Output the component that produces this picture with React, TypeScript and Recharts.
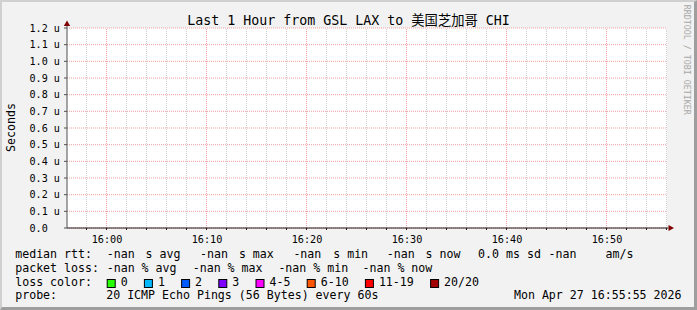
import React from 'react';
import {
  ComposedChart,
  Line,
  XAxis,
  YAxis,
  CartesianGrid,
  ReferenceLine,
  ReferenceDot,
} from 'recharts';

// ---- data (minutes since midnight; values in microseconds, all -nan) ----
const timeMinutes = [
  957, 958, 959, 960, 961, 962, 963, 964, 965, 966, 967, 968, 969, 970, 971,
  972, 973, 974, 975, 976, 977, 978, 979, 980, 981, 982, 983, 984, 985, 986,
  987, 988, 989, 990, 991, 992, 993, 994, 995, 996, 997, 998, 999, 1000, 1001,
  1002, 1003, 1004, 1005, 1006, 1007, 1008, 1009, 1010, 1011, 1012, 1013, 1014,
  1015, 1016,
];
const medianRtt: (number | null)[] = [
  null, null, null, null, null, null, null, null, null, null, null, null, null, null, null,
  null, null, null, null, null, null, null, null, null, null, null, null, null, null, null,
  null, null, null, null, null, null, null, null, null, null, null, null, null, null, null,
  null, null, null, null, null, null, null, null, null, null, null, null, null, null, null,
];
const xDomain = [956.05, 1016.05];
const xMinorTicks = [
  958, 960, 962, 964, 966, 968, 970, 972, 974, 976, 978, 980, 982, 984, 986, 988,
  990, 992, 994, 996, 998, 1000, 1002, 1004, 1006, 1008, 1010, 1012, 1014, 1016,
];
const xMajorTicks = [960, 970, 980, 990, 1000, 1010];
const xMajorLabels = ['16:00', '16:10', '16:20', '16:30', '16:40', '16:50'];
const yDomain = [0, 1.2];
const yTicks = [0, 0.1, 0.2, 0.3, 0.4, 0.5, 0.6, 0.7, 0.8, 0.9, 1.0, 1.1, 1.2];
const yTickLabels = [
  '0.0', '0.1 u', '0.2 u', '0.3 u', '0.4 u', '0.5 u', '0.6 u', '0.7 u', '0.8 u',
  '0.9 u', '1.0 u', '1.1 u', '1.2 u',
];
const lossLabels = ['0', '1', '2', '3', '4-5', '6-10', '11-19', '20/20'];
const lossColors = ['#26ff00', '#00b8ff', '#0059ff', '#7e00ff', '#ff00ff', '#ff5500', '#ff0000', '#a10000'];

const title = 'Last 1 Hour from GSL LAX to 美国芝加哥 CHI';
const yLabel = 'Seconds';
const watermark = 'RRDTOOL / TOBI OETIKER';
const probeText = '20 ICMP Echo Pings (56 Bytes) every 60s';
const stampText = 'Mon Apr 27 16:55:55 2026';

const data = timeMinutes.map((t, i) => ({ t, rtt: medianRtt[i] }));

const MONO = "'DejaVu Sans Mono', 'Noto Sans CJK SC', monospace";
const MAJOR = '#f0a0a0';
const MINOR = '#cfcfcf';

const fmtTime = (v: number) => {
  const i = xMajorTicks.indexOf(v);
  return i >= 0 ? xMajorLabels[i] : '';
};

const XTick = (p: any) => {
  const label = fmtTime(p.payload.value);
  if (!label) return <g />;
  return (
    <text x={p.x + 0.5} y={242.6} textAnchor="middle" fontFamily={MONO} fontSize={10.2} fill="#000">
      {label}
    </text>
  );
};

const YTick = (p: any) => {
  const i = yTicks.indexOf(p.payload.value);
  return (
    <text x={29.5} y={p.y + 3.5} textAnchor="start" fontFamily={MONO} fontSize={10.1} fill="#000">
      {i >= 0 ? yTickLabels[i] : ''}
    </text>
  );
};

const UpArrow = (p: any) => {
  const { cx, cy } = p;
  return (
    <g>
      <line x1={cx} y1={cy} x2={cx} y2={cy - 2.5} stroke="#505050" strokeWidth={1} />
      <polygon points={`${cx - 3.2},${cy - 2} ${cx + 3.2},${cy - 2} ${cx},${cy - 7.5}`} fill="#800000" />
    </g>
  );
};

const RightArrow = (p: any) => {
  const { cx, cy } = p;
  return (
    <g>
      <line x1={cx} y1={cy} x2={cx + 1.5} y2={cy} stroke="#1f1f1f" strokeWidth={1.2} />
      <polygon points={`${cx + 1.5},${cy - 3} ${cx + 1.5},${cy + 3} ${cx + 7},${cy}`} fill="#800000" />
    </g>
  );
};

const CW = 7; // legend char advance
const boxStart = 106.7;
const boxes: { x: number; label: string; color: string }[] = [];
{
  let x = boxStart;
  lossLabels.forEach((l, i) => {
    boxes.push({ x, label: l, color: lossColors[i] });
    x = x + 30.2 + CW * l.length;
  });
}

const row1: [number, string][] = [
  [15.2, 'median rtt:'],
  [106.7, '-nan'],
  [145.6, 's avg'],
  [200.1, '-nan'],
  [238.9, 's max'],
  [293.4, '-nan'],
  [333.2, 's min'],
  [386.7, '-nan'],
  [425.6, 's now'],
  [478.1, '0.0 ms sd'],
  [548.5, '-nan'],
  [605.6, 'am/s'],
];
const row2: [number, string][] = [
  [15.2, 'packet loss:'],
  [106.7, '-nan % avg'],
  [192.7, '-nan % max'],
  [278.4, '-nan % min'],
  [362.5, '-nan % now'],
];

export default function App() {
  const lt = { fontFamily: MONO, fontSize: 11.6, fill: '#000' } as const;
  return (
    <div style={{ position: 'absolute', left: 0, top: 0, width: 697, height: 310, background: '#f2f2f2' }}>
      <ComposedChart
        width={697}
        height={310}
        data={data}
        margin={{ top: 28, right: 30, bottom: 62, left: 0 }}
      >
        <CartesianGrid
          horizontal={true}
          vertical={false}
          stroke={MAJOR}
          strokeDasharray="1 1"
          fill="#ffffff"
          fillOpacity={1}
        />
        {xMinorTicks
          .filter((v) => xMajorTicks.indexOf(v) < 0)
          .map((v) => (
            <ReferenceLine key={'mn' + v} x={v} stroke={MINOR} strokeDasharray="1 1" />
          ))}
        {xMajorTicks.map((v) => (
          <ReferenceLine key={'mj' + v} x={v} stroke={MAJOR} strokeDasharray="1 1" />
        ))}
        <XAxis
          type="number"
          dataKey="t"
          domain={xDomain}
          allowDataOverflow
          ticks={xMinorTicks}
          interval={0}
          height={20}
          tickSize={2}
          axisLine={{ stroke: '#1f1f1f', strokeWidth: 1.2 }}
          tickLine={{ stroke: '#1f1f1f' }}
          tick={XTick}
        />
        <YAxis
          type="number"
          domain={yDomain}
          allowDataOverflow
          ticks={yTicks}
          interval={0}
          width={67}
          tickSize={3}
          axisLine={{ stroke: '#505050' }}
          tickLine={{ stroke: '#505050' }}
          tick={YTick}
        />
        <Line
          type="linear"
          dataKey="rtt"
          stroke="#000"
          dot={false}
          connectNulls={false}
          isAnimationActive={false}
        />
        <ReferenceDot x={xDomain[0]} y={yDomain[1]} r={0} ifOverflow="visible" shape={UpArrow} />
        <ReferenceDot x={xDomain[1]} y={yDomain[0]} r={0} ifOverflow="visible" shape={RightArrow} />
      </ComposedChart>
      <svg
        width={697}
        height={310}
        style={{ position: 'absolute', left: 0, top: 0, pointerEvents: 'none' }}
      >
        <polygon points="0,0 697,0 695,2 2,2 2,308 0,310" fill="#d0d0d0" />
        <polygon points="697,0 697,310 0,310 2,307 694,307 694,2" fill="#9e9e9e" />
        <text x={348.5} y={25} textAnchor="middle" fontFamily={MONO} fontSize={13.3} fill="#000">
          {title}
        </text>
        <text
          x={0}
          y={0}
          transform="translate(14.6,127.5) rotate(-90)"
          textAnchor="middle"
          {...lt}
        >
          {yLabel}
        </text>
        <text
          x={0}
          y={0}
          transform="translate(684.4,4.8) rotate(90)"
          textAnchor="start"
          fontFamily={MONO}
          fontSize={8.3}
          fill="#a8a8a8"
        >
          {watermark}
        </text>
        {row1.map(([x, s], i) => (
          <text key={'r1' + i} x={x} y={258.3} {...lt} style={{ whiteSpace: 'pre' }}>
            {s}
          </text>
        ))}
        {row2.map(([x, s], i) => (
          <text key={'r2' + i} x={x} y={271.8} {...lt} style={{ whiteSpace: 'pre' }}>
            {s}
          </text>
        ))}
        <text x={15.2} y={285.7} {...lt}>loss color:</text>
        {boxes.map((b, i) => (
          <g key={'b' + i}>
            <rect x={b.x + 0.5} y={279.5} width={8} height={8} fill={b.color} stroke="#000" strokeWidth={1} />
            <text x={b.x + 14} y={285.7} {...lt}>
              {b.label}
            </text>
          </g>
        ))}
        <text x={15.2} y={298.6} {...lt}>probe:</text>
        <text x={106.2} y={298.6} {...lt}>{probeText}</text>
        <text x={681.5} y={298.6} textAnchor="end" {...lt}>{stampText}</text>
      </svg>
    </div>
  );
}
